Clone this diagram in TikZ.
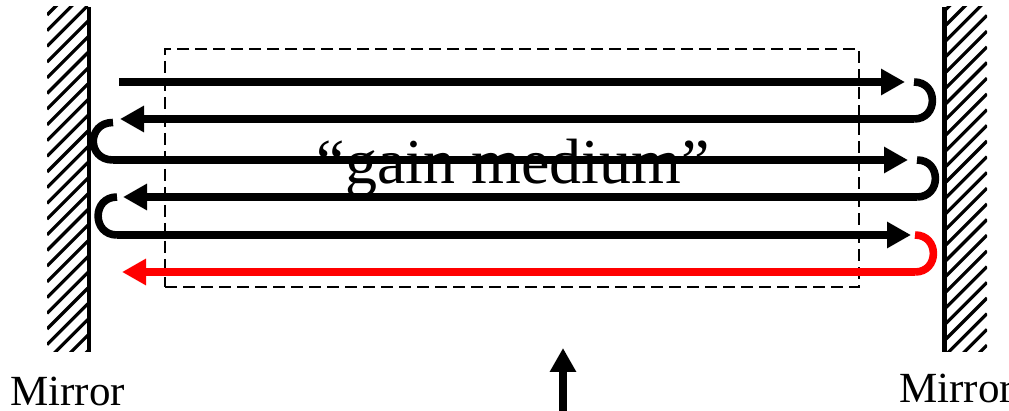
\documentclass[tikz,border=0pt]{standalone}
\usepackage{fontspec}
\setmainfont{Liberation Serif}
\usetikzlibrary{arrows.meta}
\begin{document}
\begin{tikzpicture}[x=1pt,y=-1pt,
				beam/.style={line width=7.6pt},
				ray/.style={beam,-{Triangle[length=24pt,width=25pt]}},
				bounce/.style={beam,out=0,in=0,looseness=1.7},
				stripe/.style={line width=3.2pt},
				frame/.style={rectangle,inner sep=0pt,outer sep=0pt,anchor=north west,minimum width=41pt,minimum height=345pt},
				bar/.style={rectangle,fill=black,inner sep=0pt,outer sep=0pt,anchor=north west,minimum height=345pt},
				label/.style={inner sep=0pt,font=\fontsize{43}{43}\selectfont}]
\useasboundingbox (0,0) rectangle (1009,411);
% mirrors
\node[frame] (mirrorl) at (47,7) {};
\node[frame] (mirrorr) at (946,7) {};
\begin{scope}
\clip (mirrorl.north west) rectangle (mirrorl.south east);
\foreach \k in {-3,...,24}
	\draw[stripe] (47,15+15.7*\k) -- ++(41,-41);
\end{scope}
\begin{scope}
\clip (mirrorr.north west) rectangle (mirrorr.south east);
\foreach \k in {-3,...,24}
	\draw[stripe] (946,25+15.7*\k) -- ++(41,-41);
\end{scope}
\node[bar,minimum width=4pt] (barl) at (87,7) {};
\node[bar,minimum width=5pt] (barr) at (942,7) {};
% gain region
\node[draw,line width=2.7pt,dash pattern=on 12pt off 6pt,rectangle,inner sep=0pt,outer sep=0pt,minimum width=694pt,minimum height=238pt,anchor=north west] (medium) at (165,49) {};
% ends of the rays
\coordinate (a1) at (119,82);
\coordinate (b1) at (905,82);
\coordinate (c1) at (914,82);
\coordinate (d1) at (914,119);
\coordinate (e1) at (120,119);
\coordinate (f1) at (113,122.5);
\coordinate (a2) at (113,160);
\coordinate (b2) at (908,160);
\coordinate (c2) at (917,160);
\coordinate (d2) at (917,197);
\coordinate (e2) at (123,197);
\coordinate (f2) at (117,197);
\coordinate (a3) at (117,235);
\coordinate (b3) at (911,235);
\coordinate (c3) at (915,235);
\coordinate (d3) at (915,272);
\coordinate (e3) at (122,272);
\coordinate (pumpa) at (563,411);
\coordinate (pumpb) at (563,348);
\draw[ray] (a1) -- (b1);
\draw[bounce] (c1) to (d1);
\draw[ray] (d1) -- (e1);
\draw[bounce,out=180,in=180,looseness=1.8] (f1) to (a2);
\draw[ray] (a2) -- (b2);
\draw[bounce] (c2) to (d2);
\draw[ray] (d2) -- (e2);
\draw[bounce,out=180,in=180] (f2) to (a3);
\draw[ray] (a3) -- (b3);
\draw[bounce,red] (c3) to (d3);
\draw[ray,red] (d3) -- (e3);
\draw[ray] (pumpa) -- (pumpb);
% labels
\node[label,anchor=base,font=\fontsize{64}{64}\selectfont] (gain) at (513,184) {“gain medium”};
\node[label,anchor=base west] (labell) at (10,406) {Mirror};
\node[label,anchor=base west] (labelr) at (899,402) {Mirror};
\end{tikzpicture}
\end{document}
